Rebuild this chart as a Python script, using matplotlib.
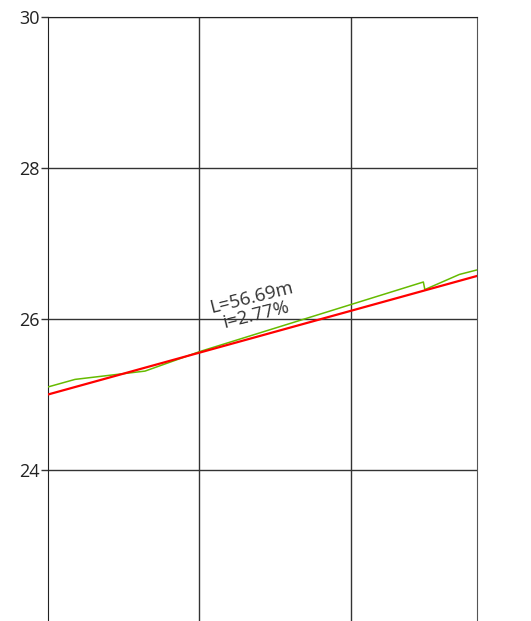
import numpy as np
import matplotlib
matplotlib.use('Agg')
import matplotlib.pyplot as plt

plt.rc('font', family=['Open Sans', 'DejaVu Sans'])

# ground profile (green) and pipe grade line (red)
ground_x = [0, 3.57, 12.82, 20.09, 49.6, 49.8, 54.36, 56.69]
ground_y = [25.10, 25.20, 25.31, 25.57, 26.49, 26.39, 26.59, 26.65]
pipe_x = [0, 56.69]
pipe_y = [25.00, 26.57]
label_lines = ['L=56.69m', 'i=2.77%']
label_pos = (27.2, 26.17)

y_ticks = [24, 26, 28, 30]
x_grid = [20, 40]

fig = plt.figure(figsize=(5.31, 6.21), dpi=100)
ax = fig.add_axes([48/531, 0, (477-48)/531, 1 - 17/621])

ax.plot(ground_x, ground_y, color='#66bb00', lw=1.1, zorder=3)
ax.plot(pipe_x, pipe_y, color='#ff0000', lw=1.6, zorder=4)

ax.set_xlim(0, 56.69)
ax.set_ylim(22, 30)

for y in y_ticks:
    ax.axhline(y, color='#333333', lw=1, zorder=1)
for x in x_grid:
    ax.axvline(x, color='#333333', lw=1, zorder=1)

ax.set_yticks(y_ticks)
ax.set_xticks([])
ax.tick_params(axis='y', length=5, width=1, color='#333333', labelsize=13,
               labelcolor='#222222', pad=1)

ax.spines['bottom'].set_visible(False)
ax.spines['left'].set_color('#222222')
ax.spines['top'].set_color('#222222')
ax.spines['right'].set_color('#555555')

ax.text(label_pos[0], label_pos[1], '\n'.join(label_lines), ha='center', va='center',
        rotation=14, rotation_mode='anchor', multialignment='center',
        fontsize=13.5, color='#333333', linespacing=0.95, zorder=5)

fig.savefig('out.png', dpi=100)
